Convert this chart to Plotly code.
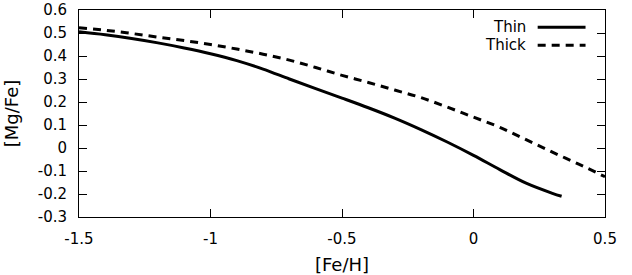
import plotly.graph_objects as go

# [Fe/H] grid and [Mg/Fe] tracks
feh_thin = [-1.5, -1.4, -1.3, -1.2, -1.1, -1.0, -0.9, -0.8, -0.7, -0.6,
            -0.5, -0.4, -0.3, -0.2, -0.1, 0.0, 0.1, 0.2, 0.3, 0.335]
mgfe_thin = [0.505, 0.492, 0.476, 0.457, 0.435, 0.41, 0.38, 0.343, 0.3, 0.258,
             0.217, 0.175, 0.13, 0.08, 0.026, -0.032, -0.094, -0.153, -0.197, -0.21]

feh_thick = [-1.5, -1.4, -1.3, -1.2, -1.1, -1.0, -0.9, -0.8, -0.7, -0.6,
             -0.5, -0.4, -0.3, -0.2, -0.1, 0.0, 0.1, 0.2, 0.3, 0.4, 0.5]
mgfe_thick = [0.523, 0.512, 0.498, 0.482, 0.467, 0.45, 0.43, 0.408, 0.382, 0.35,
              0.316, 0.285, 0.252, 0.219, 0.178, 0.134, 0.09, 0.036, -0.018, -0.07, -0.125]

x_ticks = [-1.5, -1.0, -0.5, 0.0, 0.5]
x_labels = ['-1.5', '-1', '-0.5', '0', '0.5']
y_ticks = [-0.3, -0.2, -0.1, 0.0, 0.1, 0.2, 0.3, 0.4, 0.5, 0.6]
y_labels = ['-0.3', '-0.2', '-0.1', '0', '0.1', '0.2', '0.3', '0.4', '0.5', '0.6']

thin_dash = 'solid'
thick_dash = '8px,6px'

fig = go.Figure()
fig.add_trace(go.Scatter(x=feh_thin, y=mgfe_thin, mode='lines', name='Thin',
                         line=dict(color='black', width=3, dash=thin_dash, shape='spline')))
fig.add_trace(go.Scatter(x=feh_thick, y=mgfe_thick, mode='lines', name='Thick',
                         line=dict(color='black', width=3, dash=thick_dash, shape='spline')))

axis_style = dict(showline=True, linecolor='black', linewidth=1, mirror='ticks',
                  ticks='inside', ticklen=8, tickwidth=1, tickcolor='black',
                  showgrid=False, zeroline=False, automargin=False)

fig.update_xaxes(range=[-1.5, 0.5], tickvals=x_ticks, ticktext=x_labels,
                 ticklabelstandoff=8,
                 title=dict(text='[Fe/H]', standoff=14), **axis_style)
fig.update_yaxes(range=[-0.3, 0.6], tickvals=y_ticks, ticktext=y_labels,
                 ticklabelstandoff=8,
                 title=dict(text='[Mg/Fe]', standoff=14), **axis_style)

# gnuplot-style key: label on the left, line sample on the right
key_rows = [('Thin', thin_dash, 0.917), ('Thick', thick_dash, 0.83)]
for name, dash, yk in key_rows:
    fig.add_annotation(xref='paper', yref='paper', x=0.853, y=yk, text=name,
                       showarrow=False, xanchor='right', yanchor='middle',
                       font=dict(size=15, color='black'))
    fig.add_shape(type='line', xref='paper', yref='paper', x0=0.872, x1=0.963,
                  y0=yk, y1=yk, line=dict(color='black', width=3, dash=dash))

fig.update_layout(width=632, height=275, margin=dict(l=79, r=27, t=10, b=58),
                  plot_bgcolor='white', paper_bgcolor='white', showlegend=False,
                  font=dict(family='DejaVu Sans', size=15, color='black'))

# drop the browser's default body margin so the figure sits at the page corner
fig.write_html('out.html', config={'displayModeBar': False},
               post_script="document.body.style.margin = '0';")
